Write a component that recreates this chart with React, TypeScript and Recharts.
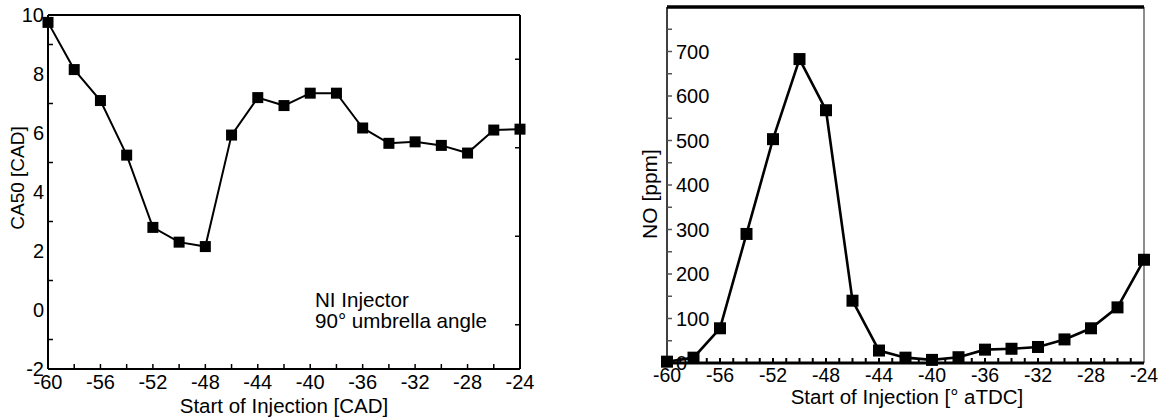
import { LineChart, Line, XAxis, YAxis, ReferenceLine } from "recharts"

const FONT = "'Liberation Sans', Arial, Helvetica, sans-serif"

// start of injection (shared by both panels)
const injAngles = [-60, -58, -56, -54, -52, -50, -48, -46, -44, -42, -40, -38, -36, -34, -32, -30, -28, -26, -24]
const ca50 = [9.75, 8.15, 7.1, 5.25, 2.8, 2.3, 2.15, 5.93, 7.2, 6.93, 7.35, 7.35, 6.17, 5.65, 5.7, 5.58, 5.32, 6.1, 6.13]
const noPpm = [3, 12, 78, 290, 503, 683, 568, 140, 28, 12, 7, 13, 30, 32, 36, 53, 78, 125, 232]

// left panel ticks
const caXTicks = [-60, -58, -56, -54, -52, -50, -48, -46, -44, -42, -40, -38, -36, -34, -32, -30, -28, -26, -24]
const caXLabels = [-60, -56, -52, -48, -44, -40, -36, -32, -28, -24]
const caYTicks = [-2, -1, 0, 1, 2, 3, 4, 5, 6, 7, 8, 9, 10]
const caYLabels = [-2, 0, 2, 4, 6, 8, 10]
const caRightTicks = [8.5, 5.5, 2.5, -0.5]

// right panel ticks
const noXTicks = [
  -60, -59, -58, -57, -56, -55, -54, -53, -52, -51, -50, -49, -48, -47, -46, -45, -44, -43, -42,
  -41, -40, -39, -38, -37, -36, -35, -34, -33, -32, -31, -30, -29, -28, -27, -26, -25, -24,
]
const noXLabels = [-60, -56, -52, -48, -44, -40, -36, -32, -28, -24]
const noYTicks = [0, 50, 100, 150, 200, 250, 300, 350, 400, 450, 500, 550, 600, 650, 700, 750, 800]
const noYLabels = [0, 100, 200, 300, 400, 500, 600, 700]

const caData = injAngles.map((soi, i) => ({ soi, ca50: ca50[i] }))
const noData = injAngles.map((soi, i) => ({ soi, no: noPpm[i] }))

const squareDot = (size: number) => (props: any) => {
  const { cx, cy, index } = props
  return <rect key={`sq-${index}`} x={cx - size / 2} y={cy - size / 2} width={size} height={size} fill="#000" />
}

function CaXTick({ x, y, payload }: any) {
  const v = payload.value
  return (
    <g>
      {v > -60 && v < -24 && <line x1={x} x2={x} y1={y} y2={y - 5} stroke="#000" strokeWidth={1.5} />}
      {caXLabels.includes(v) && (
        <text x={x} y={y + 13} dy="0.35em" textAnchor="middle" fontSize={20} fontFamily={FONT} fill="#000">
          {v}
        </text>
      )}
    </g>
  )
}

function CaYTick({ x, y, payload }: any) {
  const v = payload.value
  return (
    <g>
      {Math.abs(v % 2) === 1 && <line x1={x} x2={x + 5} y1={y} y2={y} stroke="#000" strokeWidth={1.5} />}
      {caYLabels.includes(v) && (
        <text x={x - 4} y={y} dy="0.35em" textAnchor="end" fontSize={20} fontFamily={FONT} fill="#000">
          {v}
        </text>
      )}
    </g>
  )
}

function CaRightTick({ x, y }: any) {
  return <line x1={x} x2={x - 5} y1={y} y2={y} stroke="#000" strokeWidth={1.5} />
}

function NoXTick({ x, y, payload }: any) {
  const v = payload.value
  return (
    <g>
      {v > -60 && v < -24 && <line x1={x} x2={x} y1={y} y2={y - 5} stroke="#000" strokeWidth={2} />}
      {noXLabels.includes(v) && (
        <text x={x} y={y + 12} dy="0.35em" textAnchor="middle" fontSize={19.5} fontFamily={FONT} fill="#000">
          {v}
        </text>
      )}
    </g>
  )
}

function NoYTick({ x, y, payload }: any) {
  const v = payload.value
  return (
    <g>
      {v > 0 && v < 800 && <line x1={x} x2={x + 5} y1={y} y2={y} stroke="#555" strokeWidth={1.5} />}
      {noYLabels.includes(v) && (
        <text x={x + 9} y={y} dy="0.35em" textAnchor="start" fontSize={20} fontFamily={FONT} fill="#000">
          {v}
        </text>
      )}
    </g>
  )
}

export default function App() {
  return (
    <div style={{ position: "absolute", left: 0, top: 0, width: 1161, height: 418, background: "#fff", fontFamily: FONT }}>
      <div style={{ position: "absolute", left: 0, top: 0 }}>
        <LineChart width={560} height={418} data={caData} margin={{ top: 15, right: 39, bottom: 48, left: 47 }}>
          <XAxis
            type="number"
            dataKey="soi"
            domain={[-60, -24]}
            ticks={caXTicks}
            interval={0}
            height={1}
            tickSize={0}
            tickMargin={0}
            tickLine={false}
            axisLine={{ stroke: "#000", strokeWidth: 2 }}
            tick={CaXTick}
          />
          <YAxis
            yAxisId="l"
            type="number"
            domain={[-2, 10]}
            ticks={caYTicks}
            interval={0}
            width={1}
            tickSize={0}
            tickMargin={0}
            tickLine={false}
            axisLine={{ stroke: "#000", strokeWidth: 2 }}
            tick={CaYTick}
          />
          <YAxis
            yAxisId="r"
            orientation="right"
            type="number"
            domain={[-2, 10]}
            allowDataOverflow
            ticks={caRightTicks}
            interval={0}
            width={1}
            tickSize={0}
            tickMargin={0}
            tickLine={false}
            axisLine={{ stroke: "#000", strokeWidth: 2 }}
            tick={CaRightTick}
          />
          <ReferenceLine yAxisId="l" y={10} stroke="#000" strokeWidth={2} />
          <Line
            yAxisId="l"
            type="linear"
            dataKey="ca50"
            stroke="#000"
            strokeWidth={2}
            dot={squareDot(11)}
            isAnimationActive={false}
          />
        </LineChart>
      </div>

      <div style={{ position: "absolute", left: 580, top: 0 }}>
        <LineChart width={581} height={418} data={noData} margin={{ top: 7, right: 17, bottom: 54, left: 86 }}>
          <XAxis
            type="number"
            dataKey="soi"
            domain={[-60, -24]}
            ticks={noXTicks}
            interval={0}
            height={1}
            tickSize={0}
            tickMargin={0}
            tickLine={false}
            axisLine={{ stroke: "#000", strokeWidth: 3 }}
            tick={NoXTick}
          />
          <YAxis
            type="number"
            domain={[0, 800]}
            ticks={noYTicks}
            interval={0}
            width={1}
            tickSize={0}
            tickMargin={0}
            tickLine={false}
            axisLine={{ stroke: "#000", strokeWidth: 1.5 }}
            tick={NoYTick}
          />
          <ReferenceLine x={-24} stroke="#666" strokeWidth={1.5} />
          <ReferenceLine y={800} stroke="#000" strokeWidth={3.5} />
          <Line type="linear" dataKey="no" stroke="#000" strokeWidth={2.6} dot={squareDot(12)} isAnimationActive={false} />
        </LineChart>
      </div>

      <svg width={1161} height={418} style={{ position: "absolute", left: 0, top: 0, pointerEvents: "none" }}>
        <g fontFamily={FONT} fill="#000">
          <text x={284} y={413} textAnchor="middle" fontSize={20.5}>
            Start of Injection [CAD]
          </text>
          <text x={24} y={178} textAnchor="middle" fontSize={19} transform="rotate(-90 24 178)">
            CA50 [CAD]
          </text>
          <text x={315} y={307} fontSize={20.6}>
            NI Injector
          </text>
          <text x={315} y={328} fontSize={20.6}>
            90° umbrella angle
          </text>
          <text x={907} y={404} textAnchor="middle" fontSize={20.5}>
            Start of Injection [° aTDC]
          </text>
          <text x={657} y={194} textAnchor="middle" fontSize={21} transform="rotate(-90 657 194)">
            NO [ppm]
          </text>
        </g>
      </svg>
    </div>
  )
}
